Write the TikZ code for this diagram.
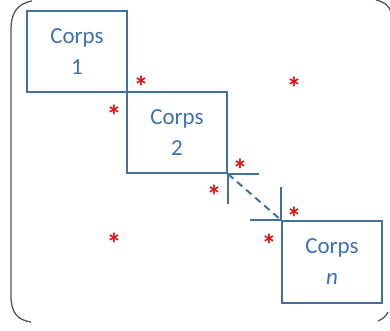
\documentclass[tikz,border=0pt]{standalone}
\usepackage{fontspec}
\setmainfont{Carlito}
\definecolor{boxblue}{HTML}{41719C}
\definecolor{txtblue}{HTML}{3C72B4}
\definecolor{starred}{HTML}{E01010}
\definecolor{brk}{HTML}{555555}
\begin{document}
\begin{tikzpicture}[x=1pt,y=-1pt,
  corps/.style={draw=boxblue,line width=2pt,minimum width=100pt,minimum height=81pt,
    inner sep=0pt,align=center,text=txtblue,font=\fontsize{23}{31}\selectfont},
  wire/.style={draw=boxblue,line width=2pt},
  star/.style={text=starred,inner sep=0pt,font=\fontsize{30}{30}\selectfont\bfseries},
  brace/.style={draw=brk,line width=1.3pt}]
\useasboundingbox (0,0) rectangle (390,331);
\begin{scope}
\clip (0,0) rectangle (390,331);
\draw[brace] (32,1) .. controls (16,4) and (11,14) .. (11,30) -- (11,296) .. controls (11,312) and (17,320) .. (31,322);
\draw[brace] (376,0) .. controls (385,2) and (389,6) .. (391,12);
\draw[brace] (378,321) .. controls (383,319) and (386,316) .. (388,312);
\end{scope}
\node[corps] (b1) at (77,51.5) {Corps\\1};
\node[corps] (b2) at (177,132.5) {Corps\\2};
\node[corps,minimum height=82pt] (bn) at (332,262) {Corps\\\textit{n}};
\coordinate (h2) at ([xshift=31pt]b2.south east);
\coordinate (v2) at ([yshift=-30pt]b2.south east);
\coordinate (hn) at ([xshift=-31pt]bn.north west);
\coordinate (vn) at ([yshift=33pt]bn.north west);
\draw[wire] (b2.south east) -- (h2);
\draw[wire] (b2.south east) -- (v2);
\draw[wire] (bn.north west) -- (hn);
\draw[wire] (bn.north west) -- (vn);
\draw[wire,dashed,dash pattern=on 7pt off 5pt] (b2.south east) -- (bn.north west);
\foreach \n/\x/\y in {s1/141/87,s2/114/116,s3/294/88,s4/240/170,s5/214/196,s6/294/218,s7/269/245,s8/114/244}
  \node[star] (\n) at (\x,\y) {*};
\end{tikzpicture}
\end{document}
